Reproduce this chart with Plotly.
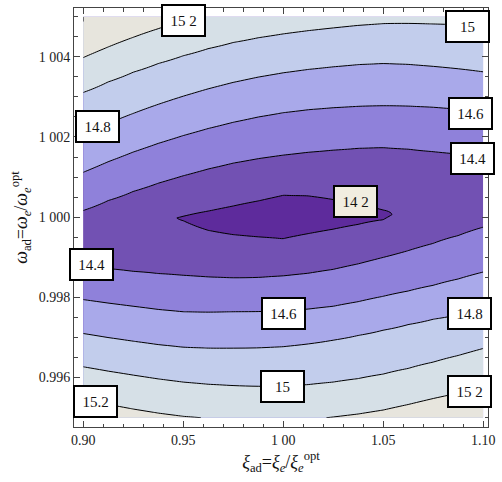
import numpy as np
import plotly.graph_objects as go

# ---------------- data ----------------
# sampled columns of xi_ad
xi_cols = [0.9000, 0.9125, 0.9250, 0.9375, 0.9500, 0.9625, 0.9750, 0.9875, 1.0000,
           1.0125, 1.0250, 1.0375, 1.0500, 1.0625, 1.0750, 1.0875, 1.1000]

# contour levels drawn
levels = [14.2, 14.4, 14.6, 14.8, 15.0, 15.2, 15.4]

# omega_ad where each level crosses a column, above the valley
up_154 = [1.004876, 1.005171, 1.005430, 1.005653, 1.005843, 1.005989, 1.006137, 1.006358, 1.006560,
          1.006655, 1.006709, 1.006768, 1.006809, 1.006815, 1.006809, 1.006809, 1.006809]
up_152 = [1.003980, 1.004245, 1.004485, 1.004700, 1.004893, 1.005061, 1.005221, 1.005404, 1.005565,
          1.005655, 1.005714, 1.005773, 1.005814, 1.005820, 1.005814, 1.005814, 1.005814]
up_150 = [1.003110, 1.003374, 1.003615, 1.003831, 1.004025, 1.004203, 1.004356, 1.004474, 1.004570,
          1.004651, 1.004719, 1.004782, 1.004826, 1.004832, 1.004818, 1.004799, 1.004769]
up_148 = [1.002057, 1.002335, 1.002587, 1.002814, 1.003017, 1.003201, 1.003361, 1.003493, 1.003600,
          1.003684, 1.003749, 1.003804, 1.003831, 1.003810, 1.003761, 1.003701, 1.003624]
up_146 = [1.001119, 1.001383, 1.001624, 1.001840, 1.002035, 1.002211, 1.002366, 1.002498, 1.002605,
          1.002679, 1.002729, 1.002764, 1.002779, 1.002770, 1.002741, 1.002694, 1.002629]
up_144 = [1.000167, 1.000415, 1.000642, 1.000847, 1.001032, 1.001202, 1.001348, 1.001459, 1.001547,
          1.001618, 1.001672, 1.001717, 1.001734, 1.001696, 1.001634, 1.001575, 1.001510]
up_142 = [None, None, None, None, 1.000022, 1.000152, 1.000279, 1.000405, 1.000545,
          1.000530, 1.000440, 1.000303, 1.000179, None, None, None, None]

# valley bottom: position and value of the minimum in each column
valley_omega = [0.999470, 0.999545, 0.999619, 0.999818, 0.999980, 0.999943, 0.999918, 0.999968, 1.000017,
                1.000067, 1.000092, 1.000080, 1.000067, 1.000291, 1.000515, 1.000590, 1.000639]
valley_value = [14.27, 14.25, 14.23, 14.215, 14.185, 14.15, 14.13, 14.11, 14.10,
                14.11, 14.13, 14.16, 14.175, 14.205, 14.23, 14.24, 14.25]

# omega_ad where each level crosses a column, below the valley
lo_142 = [None, None, None, None, 0.999913, 0.999672, 0.999565, 0.999510, 0.999465,
          0.999590, 0.999701, 0.999821, 0.999938, None, None, None, None]
lo_144 = [0.998798, 0.998717, 0.998649, 0.998594, 0.998550, 0.998510, 0.998488, 0.998498, 0.998537,
          0.998602, 0.998699, 0.998836, 0.998997, 0.999165, 0.999346, 0.999541, 0.999751]
lo_146 = [0.997945, 0.997858, 0.997779, 0.997700, 0.997642, 0.997632, 0.997642, 0.997647, 0.997667,
          0.997709, 0.997779, 0.997893, 0.998027, 0.998159, 0.998301, 0.998459, 0.998632]
lo_148 = [0.997099, 0.996998, 0.996908, 0.996823, 0.996759, 0.996735, 0.996734, 0.996741, 0.996771,
          0.996839, 0.996933, 0.997051, 0.997182, 0.997322, 0.997455, 0.997564, 0.997654]
lo_150 = [0.996269, 0.996161, 0.996062, 0.995967, 0.995888, 0.995834, 0.995801, 0.995783, 0.995789,
          0.995825, 0.995888, 0.995975, 0.996087, 0.996228, 0.996386, 0.996551, 0.996726]
lo_152 = [0.995465, 0.995332, 0.995216, 0.995115, 0.995035, 0.994986, 0.994955, 0.994925, 0.994918,
          0.994954, 0.995017, 0.995092, 0.995191, 0.995329, 0.995478, 0.995612, 0.995739]
lo_154 = [0.994594, 0.994470, 0.994346, 0.994240, 0.994147, 0.994110, 0.994072, 0.994045, 0.994022,
          0.994085, 0.994147, 0.994234, 0.994321, 0.994460, 0.994594, 0.994720, 0.994843]

# contour label texts as they appear
label_texts = ["15 2", "15", "14.8", "14.6", "14.4", "14 2",
               "14.4", "14.6", "14.8", "15", "15.2", "15 2"]

# axis tick labels
x_tickvals = [0.90, 0.95, 1.00, 1.05, 1.10]
x_ticktext = ["0.90", "0.95", "1 00", "1.05", "1.10"]
y_tickvals = [0.996, 0.998, 1.000, 1.002, 1.004]
y_ticktext = ["0.996", "0.998", "1 000", "1 002", "1 004"]

# ---------------- build the field table for the contour trace ----------------
upper = {15.4: up_154, 15.2: up_152, 15.0: up_150, 14.8: up_148, 14.6: up_146,
         14.4: up_144, 14.2: up_142}
lower = {14.2: lo_142, 14.4: lo_144, 14.6: lo_146, 14.8: lo_148, 15.0: lo_150,
         15.2: lo_152, 15.4: lo_154}

ygrid = np.linspace(0.995, 1.005, 501)
Z = np.empty((len(ygrid), len(xi_cols)))
for i in range(len(xi_cols)):
    pts = [(valley_omega[i], valley_value[i])]
    for lev, arr in list(upper.items()) + list(lower.items()):
        if arr[i] is not None:
            pts.append((arr[i], lev))
    pts.sort()
    Z[:, i] = np.interp(ygrid, [p[0] for p in pts], [p[1] for p in pts])

band_colors = ["#5e2b9c", "#7251b3", "#8f81da", "#a9a9ea",
               "#c2cdec", "#d6e0e7", "#e7e5dd", "#e7e5dd"]
nb = len(band_colors) - 1
colorscale = [[k / nb, c] for k, c in enumerate(band_colors)]

fig = go.Figure()
fig.add_trace(go.Contour(
    x=xi_cols, y=ygrid, z=Z,
    autocontour=False,
    contours=dict(start=levels[0], end=levels[-1], size=0.2, coloring="fill"),
    colorscale=colorscale,
    line=dict(color="black", width=1, smoothing=1.0),
    showscale=False, hoverinfo="skip",
))

# label anchor points (x, y) in data units
label_pos = [(0.95010, 1.004893), (1.09235, 1.004744), (0.90715, 1.002256),
             (1.09360, 1.002592), (1.09459, 1.001473), (1.03600, 1.000391),
             (0.90417, 0.998823), (1.00000, 0.997604), (1.09335, 0.997597),
             (0.99975, 0.995789), (0.90616, 0.995398), (1.09310, 0.995647)]

serif = "Liberation Serif, Times New Roman, Times, serif"
for (lx, ly), txt in zip(label_pos, label_texts):
    fig.add_annotation(
        x=lx, y=ly, xref="x", yref="y", text=txt, showarrow=False,
        font=dict(family=serif, size=15, color="#111"),
        bgcolor="#f1ede0" if txt == "14 2" else "white",
        bordercolor="black", borderwidth=2, borderpad=2,
        width=37, height=25,
    )

axis_common = dict(
    showline=True, linecolor="#444", linewidth=1, mirror="allticks",
    ticks="inside", ticklen=6, tickcolor="#444", tickwidth=1,
    showgrid=False, zeroline=False, ticklabeloverflow="allow",
    tickfont=dict(family=serif, size=14, color="#222"),
)

fig.update_xaxes(
    range=[0.89538, 1.10243], tickmode="array",
    tickvals=x_tickvals, ticktext=x_ticktext,
    minor=dict(ticks="inside", ticklen=3.5, tickcolor="#444", dtick=0.01, tick0=0.9, showgrid=False),
    title=dict(text="<i>ξ</i><sub>ad</sub>=<i>ξ</i><sub><i>e</i></sub>/<i>ξ</i><sub><i>e</i></sub><sup>opt</sup>",
               font=dict(family=serif, size=18, color="#111"), standoff=8),
    **axis_common,
)
fig.update_yaxes(
    range=[0.994768, 1.005216], tickmode="array",
    tickvals=y_tickvals, ticktext=y_ticktext,
    minor=dict(ticks="inside", ticklen=3.5, tickcolor="#444", dtick=0.0005, tick0=0.995, showgrid=False),
    title=dict(text="<i>ω</i><sub>ad</sub>=<i>ω</i><sub><i>e</i></sub>/<i>ω</i><sub><i>e</i></sub><sup>opt</sup>",
               font=dict(family=serif, size=18, color="#111"), standoff=6),
    **axis_common,
)

fig.update_layout(
    width=502, height=482,
    margin=dict(l=74, r=11, t=7, b=55),
    plot_bgcolor="white", paper_bgcolor="white",
    showlegend=False,
)

fig.write_html("out.html",
               config={"displayModeBar": False},
               post_script="document.body.style.margin='0';document.body.style.overflow='hidden';")
